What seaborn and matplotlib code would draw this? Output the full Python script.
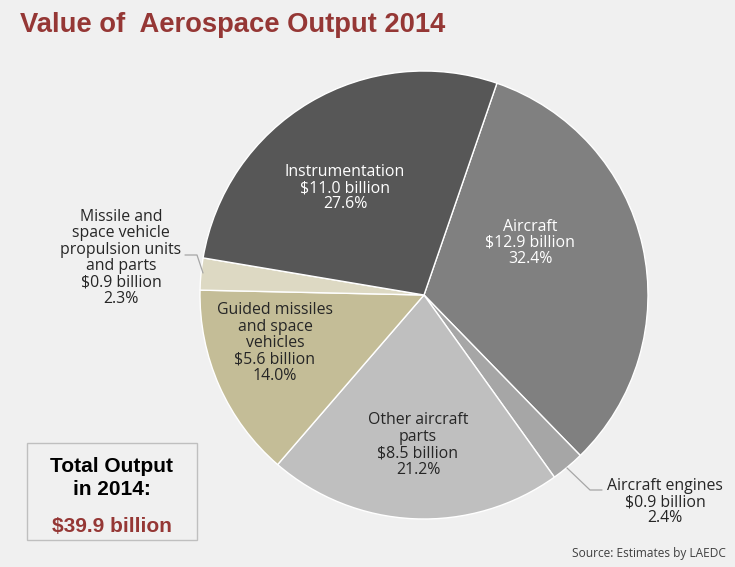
import matplotlib
matplotlib.use("Agg")
import matplotlib.pyplot as plt
import seaborn as sns

sns.set_theme(style="white")
plt.rcParams["font.family"] = ["Liberation Sans", "DejaVu Sans"]

# Aerospace output by segment, 2014 (billions of dollars and share of total)
segments = ["Aircraft", "Aircraft engines", "Other aircraft\nparts",
            "Guided missiles\nand space\nvehicles",
            "Missile and\nspace vehicle\npropulsion units\nand parts",
            "Instrumentation"]
billions = [12.9, 0.9, 8.5, 5.6, 0.9, 11.0]
shares = [32.4, 2.4, 21.2, 14.0, 2.3, 27.6]
colors = ["#808080", "#a6a6a6", "#bfbfbf", "#c4bd97", "#ddd9c3", "#575757"]
total = 39.9

BG = "#f0f0f0"
RED = "#953735"
W, H = 735, 567

fig = plt.figure(figsize=(W / 100, H / 100), dpi=100, facecolor=BG)
ax = fig.add_axes([0, 0, 1, 1])
ax.set_facecolor(BG)

cx, cy, r = 424, H - 295, 224
wedges, _ = ax.pie(shares, colors=colors, startangle=71, counterclock=False,
                   center=(cx, cy), radius=r, frame=True,
                   wedgeprops=dict(edgecolor="white", linewidth=1.0))
ax.set_xlim(0, W)
ax.set_ylim(0, H)
ax.set_aspect("equal")
ax.axis("off")

def label(i):
    return f"{segments[i]}\n${billions[i]:.1f} billion\n{shares[i]:.1f}%"

txt = dict(ha="center", va="center", fontsize=11.4, linespacing=1.03,
           family=["Open Sans", "DejaVu Sans"])
ax.text(530, H - 243, label(0), color="white", **txt)
ax.text(665, H - 502, label(1), color="#262626", **txt)
ax.text(418, H - 445, label(2), color="#262626", **txt)
ax.text(275, H - 343, label(3), color="#262626", **txt)
ax.text(121, H - 258, label(4), color="#262626", **txt)
ax.text(345, H - 188, label(5), color="white", **txt)

# leader lines for the two thin slices
ax.plot([185, 197, 203], [H - 255, H - 255, H - 273], color="#a6a6a6", lw=0.9)
ax.plot([602, 590, 567], [H - 490, H - 490, H - 468], color="#a6a6a6", lw=0.9)

ax.text(20, H - 25, "Value of  Aerospace Output 2014", color=RED,
        fontsize=19.7, fontweight="bold", ha="left", va="center")

box = plt.Rectangle((27, H - 540), 170, 97, facecolor=BG,
                    edgecolor="#bfbfbf", linewidth=1.0)
ax.add_patch(box)
ax.text(112, H - 478, "Total Output\nin 2014:", ha="center", va="center",
        fontsize=15, fontweight="bold", color="black", linespacing=1.3)
ax.text(112, H - 527, f"${total:.1f} billion", ha="center", va="center",
        fontsize=15, fontweight="bold", color=RED)

ax.text(649, H - 553, "Source: Estimates by LAEDC", ha="center", va="center",
        fontsize=8.6, color="#404040", family=["Open Sans", "DejaVu Sans"])

fig.savefig("out.png", dpi=100, facecolor=BG)
